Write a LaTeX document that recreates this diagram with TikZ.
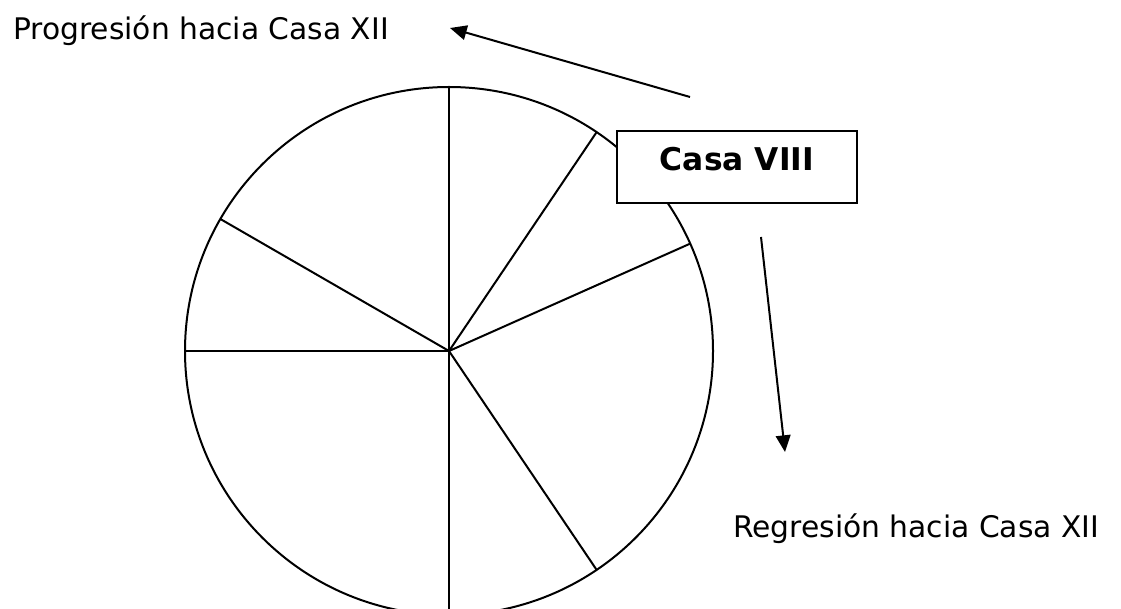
\documentclass[tikz,border=0pt]{standalone}
\usepackage{fontspec}
\setmainfont{DejaVu Sans}
\usetikzlibrary{arrows.meta}
\begin{document}
\begin{tikzpicture}[x=0.75pt,y=-0.75pt,
  ln/.style={line width=1.5pt},
  lbl/.style={font=\fontsize{22.3pt}{26pt}\selectfont, inner sep=0pt, anchor=base west},
  arr/.style={ln, -{Triangle[length=12.5pt,width=11pt]}, shorten >=0pt},
  housebox/.style={draw, ln, fill=white, rectangle, minimum width=180pt, minimum height=54pt,
    inner sep=0pt, font=\fontsize{23.5pt}{28pt}\selectfont\bfseries, text height=16pt, text depth=10pt}]
\useasboundingbox (0,0) rectangle (1121,609);
\clip (0,0) rectangle (1121,609);
% wheel
\node[draw, ln, circle, minimum size=396pt, inner sep=0pt, outer sep=0pt] (wheel) at (449,351) {};
\foreach \a in {90,56.6,24.9,-56.7,-90,180,150.7}
  \draw[ln] (wheel.center) -- (wheel.\a);
% box
\node[housebox] (box) at (737,167) {Casa VIII};
% labels
\node[lbl] (prog) at (13,40) {Progresión hacia Casa XII};
\node[lbl] (regr) at (733,537) {Regresión hacia Casa XII};
% arrows
\coordinate (a1s) at (690,97);
\coordinate (a1e) at (450,28);
\coordinate (a2s) at (761,237);
\coordinate (a2e) at (785,452);
\draw[arr] (a1s) -- (a1e);
\draw[arr] (a2s) -- (a2e);
\end{tikzpicture}
\end{document}
